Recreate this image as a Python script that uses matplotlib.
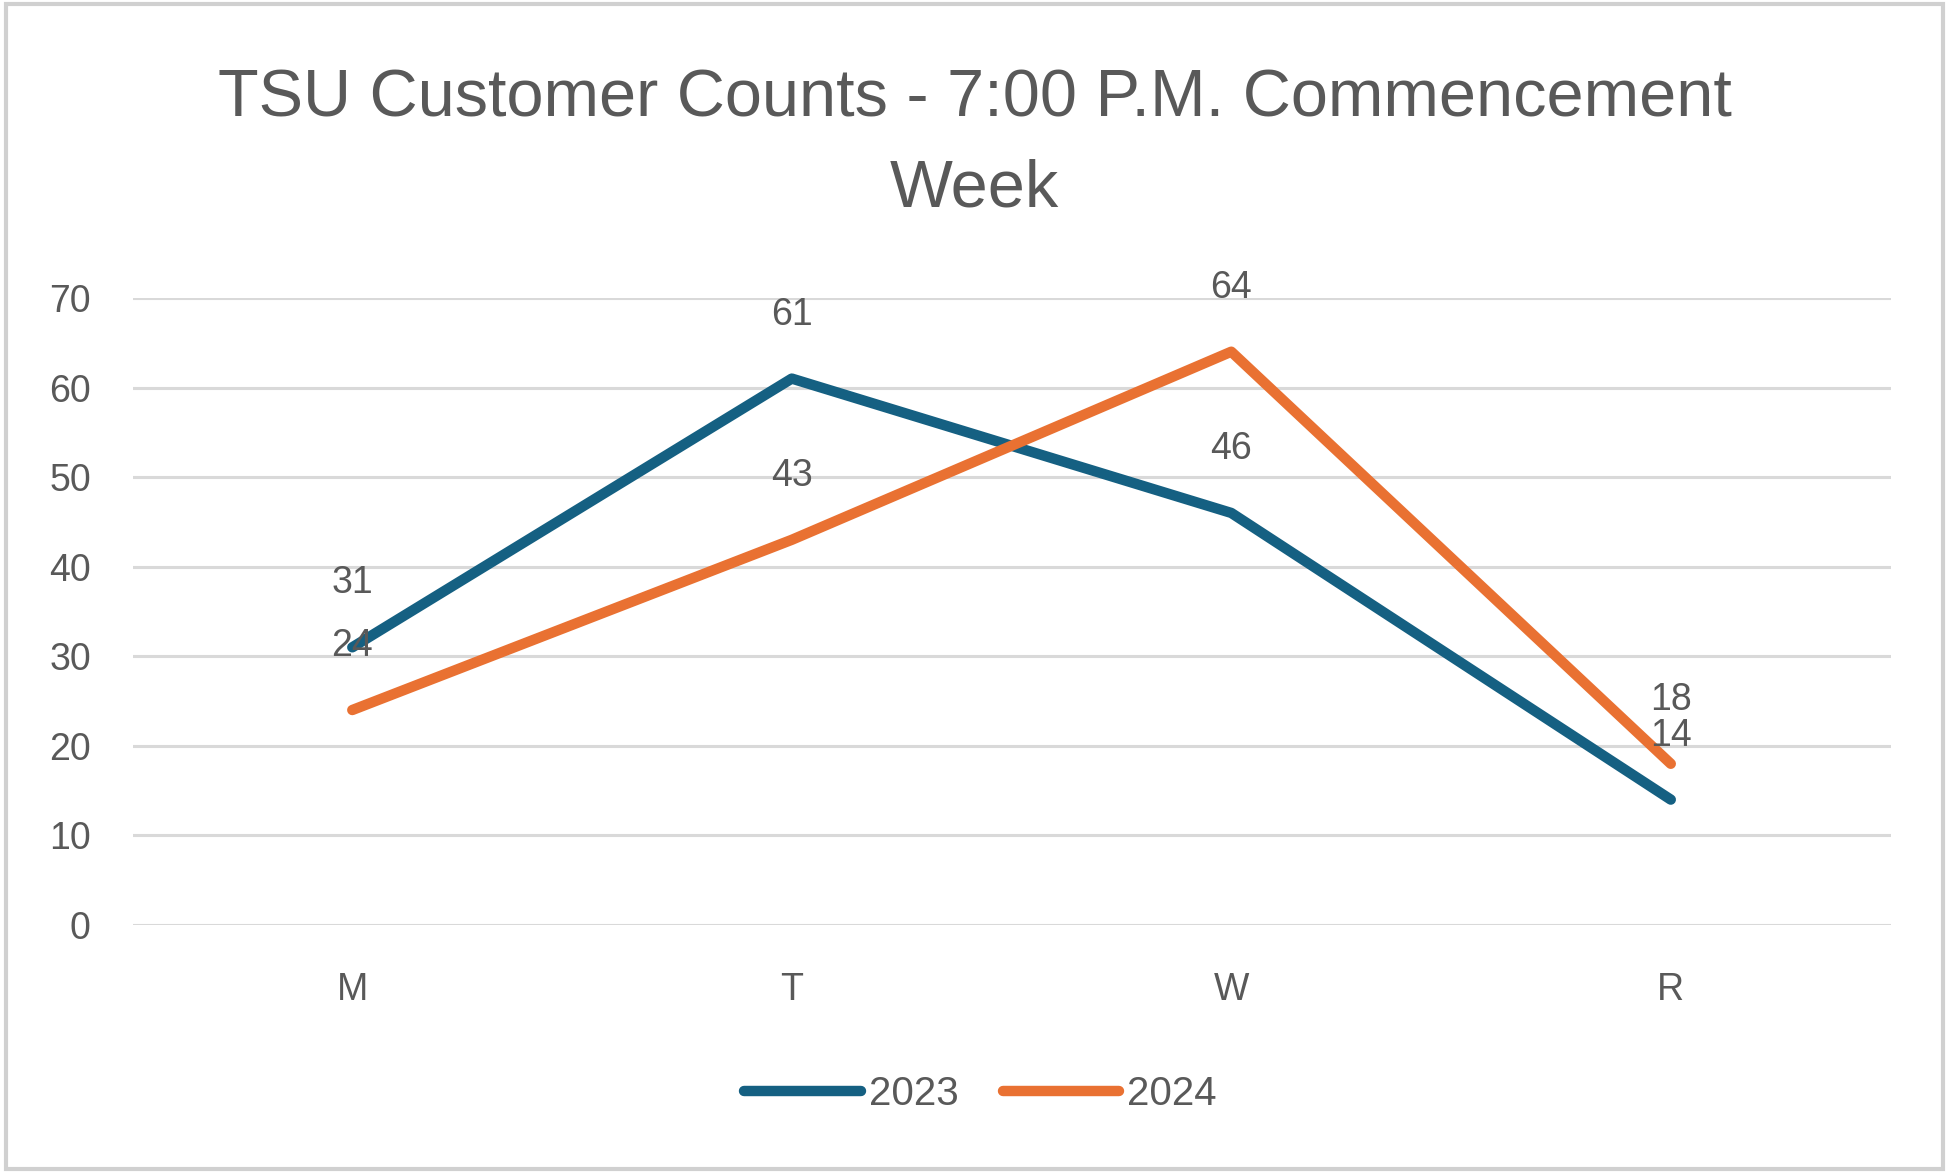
import matplotlib
matplotlib.use("Agg")
import matplotlib.pyplot as plt
from matplotlib.patches import Rectangle

days = ["M", "T", "W", "R"]
series_names = ["2023", "2024"]
counts_2023 = [31, 61, 46, 14]
counts_2024 = [24, 43, 64, 18]
y_ticks = [0, 10, 20, 30, 40, 50, 60, 70]
title = "TSU Customer Counts - 7:00 P.M. Commencement\nWeek"

colors = {"2023": "#156082", "2024": "#E97132"}
text_color = "#595959"
body_font = "Liberation Sans"

fig = plt.figure(figsize=(19.49, 11.73), dpi=100)
fig.patch.set_facecolor("white")
fig.add_artist(Rectangle((0.003, 0.003), 0.994, 0.994, transform=fig.transFigure,
                         fill=False, edgecolor="#d0d0d0", linewidth=3))

ax = fig.add_axes([0.068, 0.2114, 0.902, 0.5346])
x = list(range(len(days)))
for name, vals in zip(series_names, [counts_2023, counts_2024]):
    ax.plot(x, vals, color=colors[name], linewidth=7.5, solid_capstyle="round",
            solid_joinstyle="round", label=name, zorder=3)
    for xi, v in zip(x, vals):
        ax.annotate(str(v), (xi, v), xytext=(0, 46), textcoords="offset points",
                    ha="center", va="center", fontsize=27, color=text_color,
                    family=body_font, zorder=4)

ax.set_xlim(-0.5, len(days) - 0.5)
ax.set_ylim(0, 70)
ax.set_yticks(y_ticks)
ax.set_yticklabels([str(t) for t in y_ticks], fontsize=27, color=text_color, family=body_font)
ax.set_xticks(x)
ax.set_xticklabels(days, fontsize=27, color=text_color, family=body_font)
ax.tick_params(axis="both", length=0)
ax.tick_params(axis="y", pad=30)
ax.tick_params(axis="x", pad=34)
ax.grid(axis="y", color="#d9d9d9", linewidth=2.2, zorder=0)
for s in ax.spines.values():
    s.set_visible(False)

fig.text(0.5, 0.877, title, ha="center", va="center", fontsize=48, color=text_color,
         family=body_font, linespacing=1.58)

leg = fig.legend(loc="center", bbox_to_anchor=(0.503, 0.067), ncol=2, frameon=False,
                 handlelength=2.9, handletextpad=0.2, columnspacing=1.1,
                 prop={"family": body_font, "size": 29})
for t in leg.get_texts():
    t.set_color(text_color)

fig.savefig("out.png", dpi=100)
